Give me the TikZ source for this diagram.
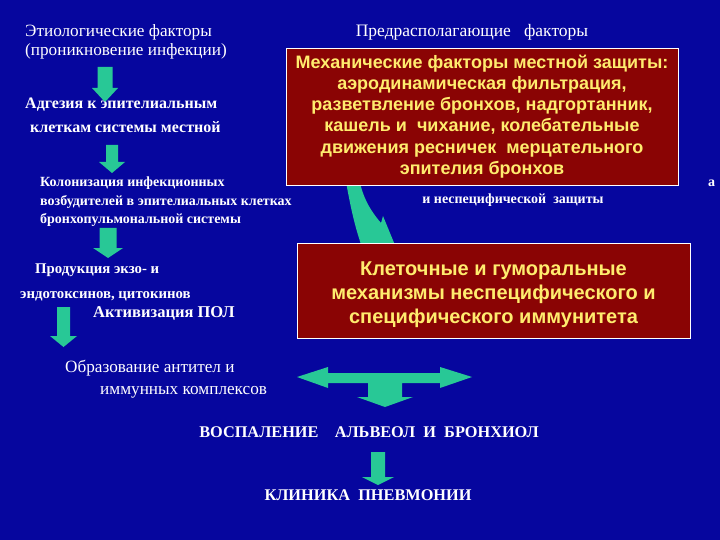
\documentclass[tikz,border=0pt]{standalone}
\usepackage{fontspec}
\setmainfont{Liberation Serif}
\newfontfamily\boxfont{Liberation Sans}
\definecolor{bgblue}{RGB}{6,6,158}
\definecolor{arrteal}{RGB}{40,200,150}
\definecolor{boxred}{RGB}{138,4,4}
\definecolor{boxyellow}{RGB}{255,236,110}
\newcommand\fsz[1]{\fontsize{#1}{#1}\selectfont}
\newcommand\dnarrow[6]{% x, top, headY, tip, shaft half, head half
  \fill[arrteal] ({#1-#5},#2) -- ({#1+#5},#2) -- ({#1+#5},#3) -- ({#1+#6},#3)
    -- (#1,#4) -- ({#1-#6},#3) -- ({#1-#5},#3) -- cycle;}
\begin{document}
\begin{tikzpicture}[x=1pt,y=-1pt,
  lbl/.style={text=white, inner sep=0pt, anchor=west},
  clbl/.style={text=white, inner sep=0pt, anchor=center},
  redbox/.style={draw=white, line width=0.8pt, fill=boxred, text=boxyellow,
    align=center, inner sep=0pt, font=\boxfont\bfseries},
  boxtext/.style={text=boxyellow, align=center, inner sep=0pt}]
\fill[bgblue] (0,0) rectangle (720,540);
\useasboundingbox (0,0) rectangle (720,540);

% left column texts
\node[lbl,font=\fsz{17.2}] (etio1) at (25,32) {Этиологические факторы};
\node[lbl,font=\fsz{17.2}] (etio2) at (25,51) {(проникновение инфекции)};
\node[lbl,font=\bfseries\fsz{16}] (adh1) at (25,105) {Адгезия к эпителиальным};
\node[lbl,font=\bfseries\fsz{16}] (adh2) at (30,127) {клеткам системы местной};
\node[lbl,font=\bfseries\fsz{14}] (col1) at (40,183) {Колонизация инфекционных};
\node[lbl,font=\bfseries\fsz{14}] (col2) at (40,202) {возбудителей в эпителиальных клетках};
\node[lbl,font=\bfseries\fsz{14}] (col3) at (40,220) {бронхопульмональной системы};
\node[lbl,font=\bfseries\fsz{14.8}] (prod1) at (35,270) {Продукция экзо- и};
\node[lbl,font=\bfseries\fsz{14.8}] (prod2) at (20,296) {эндотоксинов, цитокинов};
\node[lbl,font=\bfseries\fsz{16.5}] (pol) at (93,313) {Активизация ПОЛ};
\node[lbl,font=\fsz{17.2}] (obr1) at (65,368) {Образование антител и};
\node[lbl,font=\fsz{17.2}] (obr2) at (100,392) {иммунных комплексов};
\node[clbl,font=\bfseries\fsz{16.3}] (vosp) at (369,432) {ВОСПАЛЕНИЕ\quad АЛЬВЕОЛ\ \ И\ \ БРОНХИОЛ};
\node[clbl,font=\bfseries\fsz{16.3}] (klin) at (368,495) {КЛИНИКА\ \ ПНЕВМОНИИ};

% right column texts
\node[clbl,font=\fsz{17.5}] (pred) at (472,32) {Предрасполагающие\ \ \ факторы};
\node[clbl,font=\bfseries\fsz{14}] (nesp) at (513,200) {и неспецифической\ \ защиты};
\node[lbl,font=\bfseries\fsz{14}] (frag) at (708,183) {а};

% down arrows on the left
\dnarrow{105}{67}{88}{102}{7.5}{13}
\dnarrow{112}{145}{162}{173}{6}{13}
\dnarrow{108}{228}{248}{258}{8.5}{15}
\dnarrow{63.5}{307}{336}{347}{6.5}{13.5}

% curved arrow from the top box to the lower box
\fill[arrteal] (343,165) .. controls (350,205) and (354,225) .. (363,250)
  -- (397,250) -- (383,216) -- (381,223)
  .. controls (370,210) and (360,195) .. (357,165) -- cycle;

% boxes
\node[redbox, minimum width=392pt, minimum height=137pt,
  font=\boxfont\bfseries\fontsize{18}{21.2}\selectfont] (mech) at (482,116.5)
  {Механические факторы местной защиты:\\
   аэродинамическая фильтрация,\\
   разветвление бронхов, надгортанник,\\
   кашель и\ \ чихание, колебательные\\
   движения ресничек\ \ мерцательного\\
   эпителия бронхов};
\node[redbox, minimum width=393pt, minimum height=95pt] (cell) at (493.5,290.5) {};
\node[boxtext, font=\boxfont\bfseries\fontsize{20}{24}\selectfont] (celltext)
  at ([yshift=-4.5pt]cell.center)
  {Клеточные и гуморальные\\
   механизмы неспецифического и\\
   специфического иммунитета};

% double arrow with a downward stem
\fill[arrteal] (297,377) -- (328,367) -- (328,373) -- (440,373) -- (440,367)
  -- (472,377) -- (440,388) -- (440,383) -- (402,383) -- (402,397) -- (413,397)
  -- (385,407) -- (357,397) -- (368,397) -- (368,383) -- (328,383) -- (328,388) -- cycle;

% bottom arrow
\dnarrow{378}{452}{477}{485}{7}{16}
\end{tikzpicture}
\end{document}
